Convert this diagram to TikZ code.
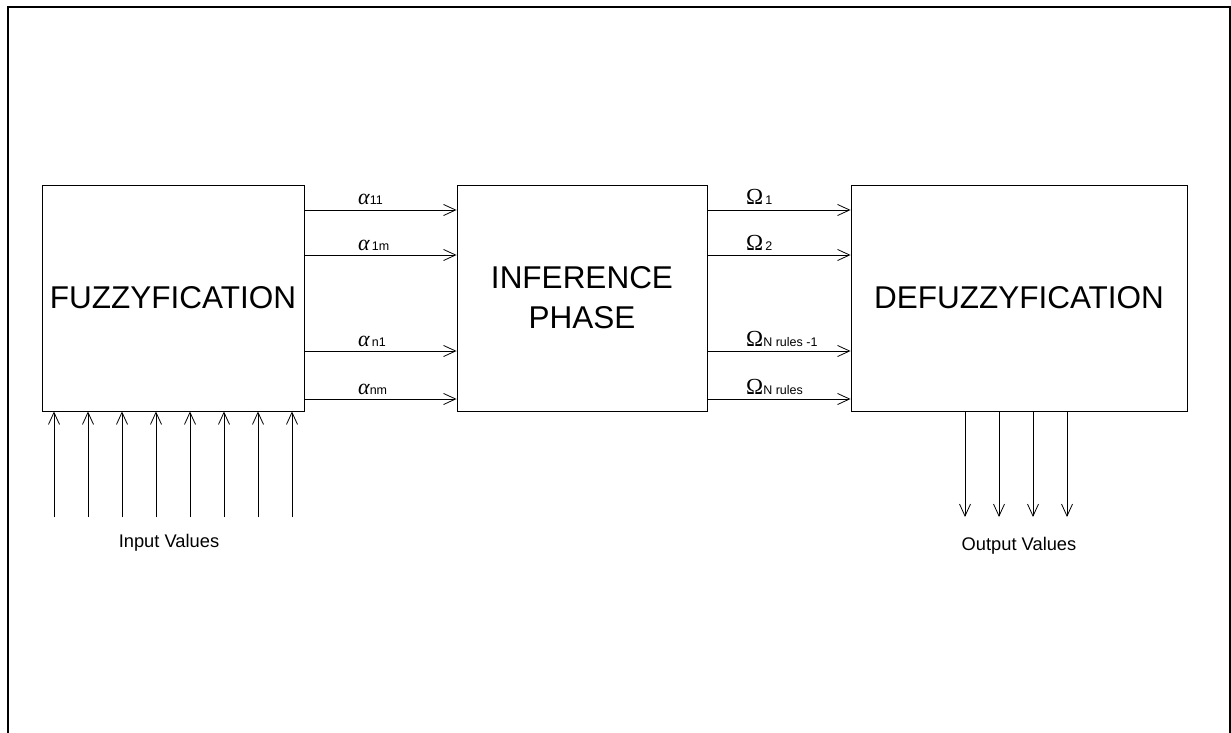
\documentclass[tikz,border=0pt]{standalone}
\usepackage{fontspec}
\setmainfont{Liberation Sans}
\newfontfamily\grk{Liberation Serif}
\usetikzlibrary{arrows.meta}
\newcommand{\alphasym}{{\fontsize{22}{24}\selectfont\grk\itshape α}}
\newcommand{\omegasym}{{\fontsize{23}{24}\selectfont\grk Ω}}
\begin{document}
\begin{tikzpicture}[x=1pt,y=-1pt,
  box/.style={draw, line width=0.9pt, minimum height=226pt, inner sep=0pt,
    font=\fontsize{31.5}{40}\selectfont, align=center},
  arr/.style={-{Straight Barb[length=12pt,width=11pt,line width=0.8pt]}, line width=0.8pt},
  lab/.style={anchor=base west, inner sep=0pt, font=\fontsize{12.5}{13}\selectfont},
  note/.style={anchor=base, inner sep=0pt, font=\fontsize{18.3}{20}\selectfont},
  frame/.style={line width=2.5pt}
]
\useasboundingbox (0,0) rectangle (1231,733);
\draw[frame] (8,745) -- (8,7) -- (1230.5,7) -- (1230.5,745);

\node[box, minimum width=262pt] (fuz) at (173,298) {FUZZYFICATION};
\node[box, minimum width=250pt] (inf) at (582,298) {INFERENCE\\PHASE};
\node[box, minimum width=336pt] (def) at (1019,298) {DEFUZZYFICATION};

% arrow levels
\coordinate (r1) at (0,210);
\coordinate (r2) at (0,255);
\coordinate (r3) at (0,351);
\coordinate (r4) at (0,399);

\foreach \r in {r1,r2,r3,r4}{
  \draw[arr] (fuz.east |- \r) -- (inf.west |- \r);
  \draw[arr] (inf.east |- \r) -- (def.west |- \r);
}

% alpha labels
\node[lab] (a1) at (358,204) {\alphasym11};
\node[lab] (a2) at (358,250) {\alphasym\,1m};
\node[lab] (a3) at (358,346) {\alphasym\,n1};
\node[lab] (a4) at (358,394) {\alphasym nm};

% omega labels
\node[lab] (o1) at (746,204) {\omegasym\,1};
\node[lab] (o2) at (746,250) {\omegasym\,2};
\node[lab] (o3) at (746,346) {\omegasym N rules -1};
\node[lab] (o4) at (746,394) {\omegasym N rules};

% input arrows
\foreach \i in {0,...,7}{
  \coordinate (in\i) at ({54+34*\i},517);
  \draw[arr] (in\i) -- (in\i |- fuz.south);
}
\node[note] (inval) at (169,547) {Input Values};

% output arrows
\foreach \i in {0,...,3}{
  \coordinate (out\i) at ({965+34*\i},517);
  \draw[arr] (out\i |- def.south) -- (out\i);
}
\node[note] (outval) at (1019,550) {Output Values};
\end{tikzpicture}
\end{document}
